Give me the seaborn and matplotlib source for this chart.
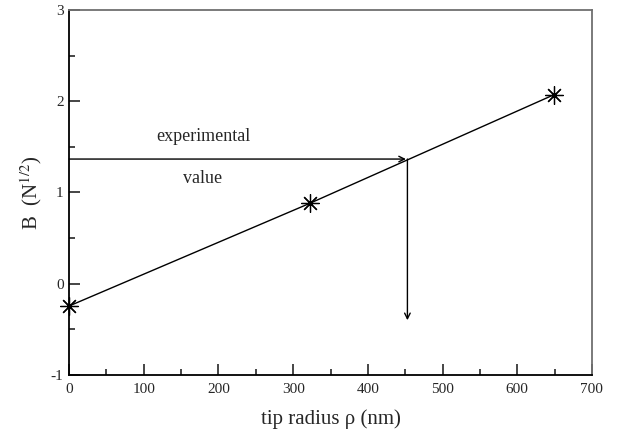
import numpy as np
import pandas as pd
import matplotlib
matplotlib.use("Agg")
import matplotlib.pyplot as plt
from matplotlib.ticker import MultipleLocator
import seaborn as sns

# data
radius = [0, 322, 649]          # tip radius rho (nm)
b_value = [-0.244, 0.88, 2.07]  # B (N^1/2)
exp_value = 1.366               # experimental B
exp_radius = 453                # radius where the line reaches it
arrow_bottom = -0.40
x_ticks = [0, 100, 200, 300, 400, 500, 600, 700]
y_ticks = [-1, 0, 1, 2, 3]

sns.set_style("ticks")
plt.rcParams['font.family'] = ['Liberation Serif', 'DejaVu Serif']
plt.rcParams['mathtext.fontset'] = 'stix'
plt.rcParams['axes.unicode_minus'] = False

fig = plt.figure(figsize=(6.23, 4.32), dpi=100)
ax = fig.add_axes([0.111, 0.132, 0.839, 0.845])

df = pd.DataFrame({'radius': radius, 'B': b_value})
sns.lineplot(data=df, x='radius', y='B', ax=ax, color='black', linewidth=1.0,
             marker=(8, 2, 0), markersize=13, markeredgewidth=0.9,
             markeredgecolor='black', sort=False, clip_on=False, zorder=5)

# experimental value arrows
ax.annotate('', xy=(exp_radius - 2, exp_value), xytext=(0, exp_value),
            arrowprops=dict(arrowstyle='->', color='black', lw=1.0,
                            shrinkA=0, shrinkB=0, mutation_scale=10))
ax.annotate('', xy=(exp_radius, arrow_bottom), xytext=(exp_radius, exp_value),
            arrowprops=dict(arrowstyle='->', color='black', lw=1.0,
                            shrinkA=0, shrinkB=0, mutation_scale=10))
ax.text(180, 1.61, 'experimental', ha='center', va='center', fontsize=13)
ax.text(178, 1.15, 'value', ha='center', va='center', fontsize=13)

ax.set_xlim(0, 700)
ax.set_ylim(-1, 3)
ax.set_xticks(x_ticks)
ax.set_yticks(y_ticks)
ax.set_yticklabels(['-1', '0', '1', '2', '3'])
ax.xaxis.set_minor_locator(MultipleLocator(50))
ax.yaxis.set_minor_locator(MultipleLocator(0.5))
ax.tick_params(which='both', direction='in', top=False, right=False,
               labelsize=11, width=1.2)
ax.tick_params(axis='x', pad=6)
ax.tick_params(axis='y', pad=4)
ax.tick_params(which='major', length=8)
ax.tick_params(which='minor', length=4)

for side in ['left', 'bottom']:
    ax.spines[side].set_color('black')
    ax.spines[side].set_linewidth(1.3)
for side in ['top', 'right']:
    ax.spines[side].set_visible(True)
    ax.spines[side].set_color('#707070')
    ax.spines[side].set_linewidth(1.3)

ax.set_xlabel('tip radius ρ (nm)', fontsize=15, labelpad=9)
ax.set_ylabel(r'B  (N$^{1/2}$)', fontsize=15, labelpad=5)

fig.savefig('out.png', dpi=100)
